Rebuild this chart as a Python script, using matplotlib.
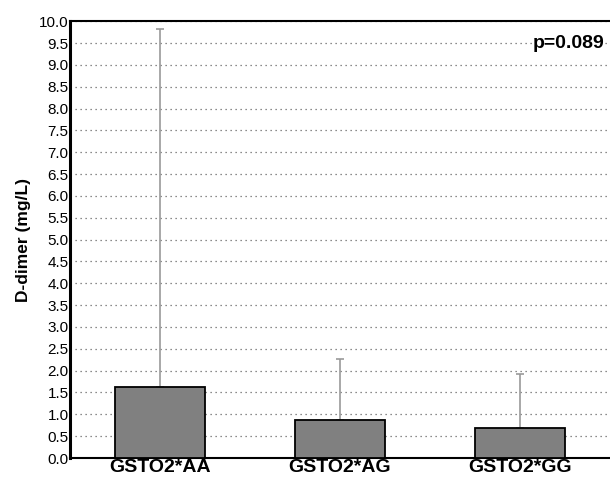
import matplotlib
matplotlib.use("Agg")
import matplotlib.pyplot as plt
import numpy as np

plt.rcParams['font.family'] = ['Liberation Sans', 'DejaVu Sans']

groups = ['GSTO2*AA', 'GSTO2*AG', 'GSTO2*GG']
means = [1.63, 0.87, 0.69]
upper = [9.81, 2.26, 1.93]   # top of error bars
p_text = 'p=0.089'

fig = plt.figure(figsize=(6.10, 4.79), dpi=100)
ax = fig.add_axes([0.1148, 0.0438, 0.885, 0.912])

x = np.arange(len(groups))
err = [u - m for u, m in zip(upper, means)]
ax.bar(x, means, width=0.5, color='#808080', edgecolor='black', linewidth=1.3, zorder=3)
ax.errorbar(x, means, yerr=[np.zeros(len(err)), err], fmt='none', ecolor='#999999',
            elinewidth=1.2, capsize=3, capthick=1.2, zorder=2)

ax.set_xlim(-0.5, 2.5)
ax.set_ylim(0, 10)
ax.set_yticks(np.arange(0, 10.01, 0.5))
ax.set_yticklabels(['%.1f' % v for v in np.arange(0, 10.01, 0.5)], fontsize=11)
ax.set_xticks(x)
ax.set_xticklabels(groups, fontsize=14, fontweight='bold')
ax.tick_params(axis='both', length=0, pad=1)
ax.tick_params(axis='x', pad=1)
ax.yaxis.grid(True, linestyle=(0, (1, 3)), color='#666666', linewidth=0.9, zorder=0)
ax.set_axisbelow(True)

ax.spines['right'].set_visible(False)
ax.spines['left'].set_linewidth(2.2)
ax.spines['bottom'].set_linewidth(1.5)
ax.spines['top'].set_linewidth(1.5)

ax.set_ylabel('D-dimer (mg/L)', fontsize=12.5, fontweight='bold', labelpad=6)
ax.text(0.99, 0.95, p_text, transform=ax.transAxes, ha='right', va='center',
        fontsize=14, fontweight='bold', zorder=5,
        bbox=dict(facecolor='white', edgecolor='none', pad=0.5))

fig.savefig('out.png', dpi=100)
